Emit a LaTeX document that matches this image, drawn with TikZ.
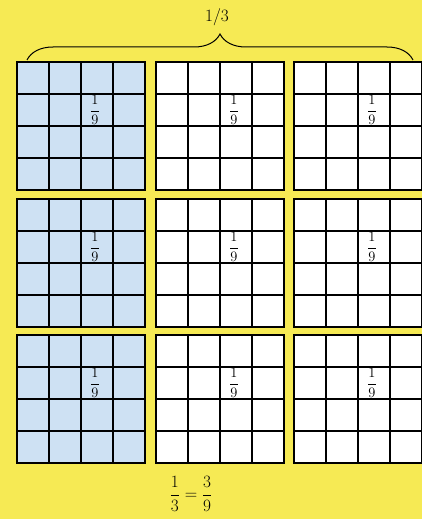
\documentclass[tikz,border=0pt]{standalone}
\usepackage{amsmath}
\usetikzlibrary{decorations.pathreplacing}

\definecolor{paper}{RGB}{246,234,84}
\definecolor{paleblue}{RGB}{206,225,243}

\tikzset{
  sheet/.style={fill=white,draw=black,line width=0.8pt},
  gridline/.style={line width=2.4pt,line cap=rect},
  ninth/.style={font=\Large,inner sep=1pt},
  curlybrace/.style={decorate,decoration={brace,amplitude=26pt,aspect=0.5},line width=1pt}
}

\begin{document}
\begin{tikzpicture}[x=1pt,y=-1pt]
  \useasboundingbox (0,0) rectangle (422,519);
  \fill[paper] (0,0) rectangle (422,519);

  % nine sheets, each cut in 4 x 4
  \foreach \c/\x in {1/17,2/156,3/294}{
    \foreach \r/\y in {1/62,2/199,3/335}{
      \ifnum\c=1
        \draw[sheet,fill=paleblue] (\x,\y) rectangle ++(128,128);
      \else
        \draw[sheet] (\x,\y) rectangle ++(128,128);
      \fi
      \foreach \k in {1,2,3}{
        \draw[gridline] (\x+32*\k,\y) -- (\x+32*\k,\y+128);
        \draw[gridline] (\x,\y+32*\k) -- (\x+128,\y+32*\k);
      }
      \draw[line width=1.4pt] (\x,\y) rectangle ++(128,128);
      \node[ninth] (n\c\r) at (\x+78,\y+48) {$\dfrac{1}{9}$};
    }
  }

  % brace over the top row
  \coordinate (braceL) at (27,60);
  \coordinate (braceR) at (413,60);
  \draw[curlybrace] (braceL) -- (braceR);
  \node[font=\LARGE] (third) at (217,17) {1/3};

  \node[font=\LARGE] (eq) at (191,494) {$\dfrac{1}{3}=\dfrac{3}{9}$};
\end{tikzpicture}
\end{document}
